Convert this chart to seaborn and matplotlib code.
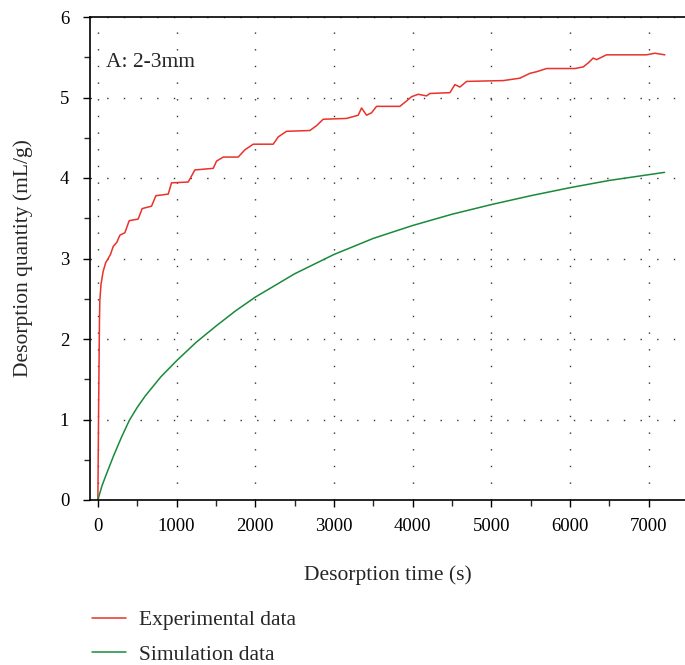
import numpy as np
import pandas as pd
import matplotlib
matplotlib.use("Agg")
import matplotlib.pyplot as plt
import seaborn as sns
from matplotlib.ticker import MultipleLocator
from matplotlib.lines import Line2D

exp_t = [0, 10, 20, 25, 40, 67, 100, 131, 160, 195, 240, 280, 343, 398, 512, 563, 682, 737, 894,
         936, 1148, 1232, 1466, 1508, 1593, 1783, 1868, 1974, 2228, 2291, 2397, 2694, 2778,
         2863, 3160, 3308, 3350, 3414, 3477, 3541, 3583, 3837, 3901, 3986, 4070, 4176, 4219,
         4473, 4536, 4600, 4685, 5150, 5362, 5489, 5574, 5701, 6061, 6167, 6231, 6294, 6336,
         6463, 6971, 7077, 7204]
exp_v = [0.0, 1.2, 2.2, 2.48, 2.68, 2.84, 2.95, 3.0, 3.05, 3.15, 3.2, 3.29, 3.32, 3.47, 3.49, 3.62,
         3.65, 3.78, 3.80, 3.94, 3.95, 4.10, 4.12, 4.21, 4.26, 4.26, 4.35, 4.42, 4.42, 4.51,
         4.58, 4.59, 4.65, 4.73, 4.74, 4.78, 4.87, 4.78, 4.81, 4.89, 4.89, 4.89, 4.94, 5.01,
         5.04, 5.02, 5.05, 5.06, 5.16, 5.13, 5.20, 5.21, 5.24, 5.30, 5.32, 5.36, 5.36, 5.38,
         5.43, 5.49, 5.47, 5.53, 5.53, 5.55, 5.53]

# Simulation data
sim_t = [0, 50, 100, 200, 300, 400, 500, 600, 800, 1000, 1250, 1500, 1750, 2000, 2500, 3000,
         3500, 4000, 4500, 5000, 5500, 6000, 6500, 7200]
sim_v = [0.0, 0.17, 0.30, 0.55, 0.78, 0.99, 1.15, 1.29, 1.53, 1.73, 1.96, 2.16, 2.35, 2.52,
         2.81, 3.05, 3.25, 3.41, 3.55, 3.67, 3.78, 3.88, 3.97, 4.07]

series_names = ["Experimental data", "Simulation data"]
x_label = "Desorption time (s)"
y_label = "Desorption quantity (mL/g)"
annotation = "A: 2-3mm"

RED = "#e8322a"
GREEN = "#1a8a3a"

sns.set_style("ticks")
plt.rcParams["font.family"] = ["Liberation Serif", "DejaVu Serif"]
plt.rcParams["font.size"] = 15

df = pd.concat([
    pd.DataFrame({"t": exp_t, "v": exp_v, "s": series_names[0]}),
    pd.DataFrame({"t": sim_t, "v": sim_v, "s": series_names[1]}),
])

fig = plt.figure(figsize=(6.85, 6.65), dpi=100)
ax = fig.add_axes([90/685, 1 - 500/665, 595/685, (500 - 17)/665])

sns.lineplot(data=df, x="t", y="v", hue="s", palette=[RED, GREEN],
             linewidth=1.1, ax=ax, sort=False, estimator=None, legend=False)

ax.set_xlim(-100, 7460)
ax.set_ylim(0, 6)
ax.xaxis.set_major_locator(MultipleLocator(1000))
ax.xaxis.set_minor_locator(MultipleLocator(500))
ax.yaxis.set_major_locator(MultipleLocator(1))
ax.yaxis.set_minor_locator(MultipleLocator(0.5))
ax.tick_params(axis="both", which="major", direction="out", length=5, width=1,
               labelsize=13.5, colors="black")
ax.tick_params(axis="x", which="major", pad=8)
ax.tick_params(axis="y", which="major", pad=10)
ax.tick_params(axis="both", which="minor", direction="out", length=4, width=1)
ax.grid(True, which="major", linestyle=(0, (1, 11)), color="#333333", linewidth=1.0)

for side in ["left", "bottom", "top"]:
    ax.spines[side].set_visible(True)
    ax.spines[side].set_color("black")
    ax.spines[side].set_linewidth(1.2)
ax.spines["right"].set_visible(False)

ax.set_xlabel(x_label, fontsize=15.5, labelpad=22)
ax.set_ylabel(y_label, fontsize=15.5, labelpad=19)

ax.text(0.027, 0.905, annotation, transform=ax.transAxes, fontsize=15.5, va="center", ha="left")

handles = [Line2D([], [], color=RED, lw=1.1), Line2D([], [], color=GREEN, lw=1.1)]
fig.legend(handles, series_names, loc="upper left", bbox_to_anchor=(73/685, 1 - 591/665),
           frameon=False, fontsize=15.5, handlelength=1.55, handletextpad=0.6, labelspacing=0.66)

fig.savefig("out.png", dpi=100)
